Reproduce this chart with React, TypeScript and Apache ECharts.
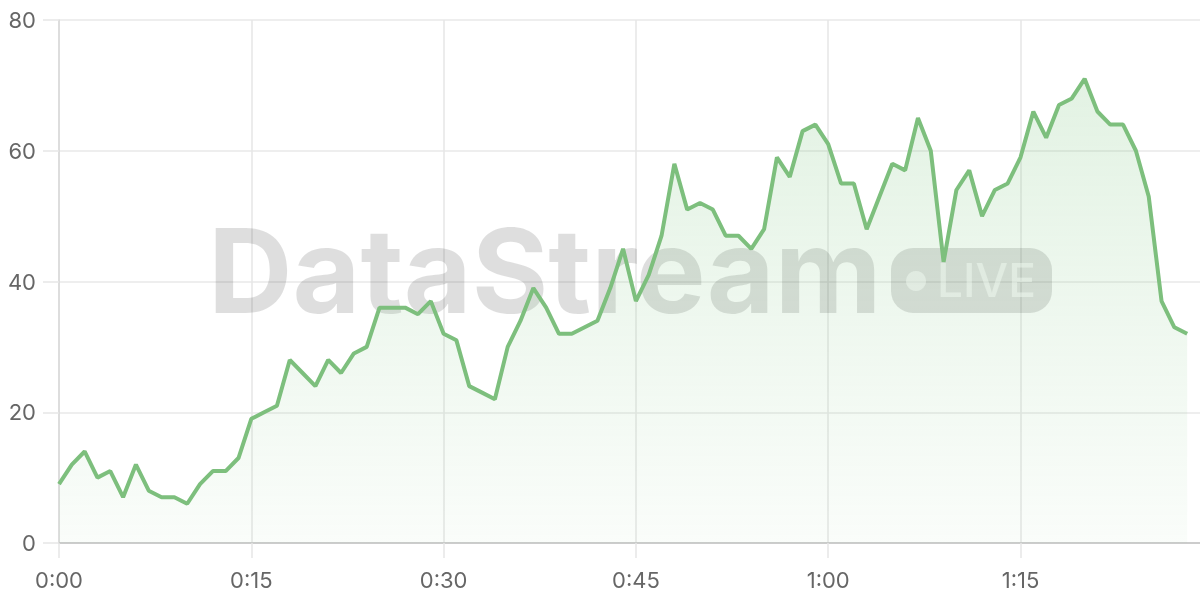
import React, { useEffect, useRef } from "react";
import * as echarts from "echarts";

// minutes 0..89 as "h:mm"
const minuteLabels: string[] = Array.from({ length: 90 }, (_, m) =>
  `${Math.floor(m / 60)}:${String(m % 60).padStart(2, "0")}`
);

const viewers: (number | null)[] = [
  9, 12, 14, 10, 11, 7, 12, 8, 7, 7,
  6, 9, 11, 11, 13, 19, 20, 21, 28, 26,
  24, 28, 26, 29, 30, 36, 36, 36, 35, 37,
  32, 31, 24, 23, 22, 30, 34, 39, 36, 32,
  32, 33, 34, 39, 45, 37, 41, 47, 58, 51,
  52, 51, 47, 47, 45, 48, 59, 56, 63, 64,
  61, 55, 55, 48, 53, 58, 57, 65, 60, 43,
  54, 57, 50, 54, 55, 59, 66, 62, 67, 68,
  71, 66, 64, 64, 60, 53, 37, 33, 32, null,
];

const yMin = 0;
const yMax = 80;
const yStep = 20;

const watermarkText = "DataStream";
const badgeText = "LIVE";

const FONT = "Inter, 'Noto Sans', sans-serif";

export default function App() {
  const ref = useRef<HTMLDivElement>(null);

  useEffect(() => {
    if (!ref.current) return;
    const chart = echarts.init(ref.current, null, { renderer: "svg" });
    chart.setOption({
      animation: false,
      grid: { left: 59, right: 0, top: 20, bottom: 57, containLabel: false },
      graphic: [
        {
          type: "text",
          z: 1,
          left: 208,
          top: 212,
          style: {
            text: watermarkText,
            font: `bold 117px ${FONT}`,
            fill: "rgba(0,0,0,0.13)",
          },
        },
        {
          type: "rect",
          z: 1,
          shape: { x: 891, y: 248, width: 161, height: 65, r: 22 },
          style: { fill: "rgba(0,0,0,0.13)" },
        },
        {
          type: "circle",
          z: 1,
          shape: { cx: 916, cy: 281, r: 10 },
          style: { fill: "rgba(255,255,255,0.55)" },
        },
        {
          type: "text",
          z: 1,
          left: 937,
          top: 257,
          style: {
            text: badgeText,
            font: `500 46px ${FONT}`,
            fill: "rgba(255,255,255,0.55)",
          },
        },
      ],
      xAxis: {
        type: "category",
        data: minuteLabels,
        boundaryGap: false,
        axisLine: { show: true, lineStyle: { color: "#cccccc", width: 2 } },
        axisTick: {
          show: true,
          interval: 14,
          length: 15,
          lineStyle: { color: "#e6e6e6", width: 1.5 },
        },
        axisLabel: {
          interval: 14,
          margin: 26,
          color: "#666666",
          fontSize: 22,
          fontFamily: FONT,
        },
        splitLine: {
          show: true,
          interval: 14,
          lineStyle: { color: "#e6e6e6", width: 1.5 },
        },
      },
      yAxis: {
        type: "value",
        min: yMin,
        max: yMax,
        interval: yStep,
        axisLine: { show: true, lineStyle: { color: "#d9d9d9", width: 1.5 } },
        axisTick: {
          show: true,
          length: 16,
          lineStyle: { color: "#e6e6e6", width: 1.5 },
        },
        axisLabel: {
          margin: 23,
          color: "#666666",
          fontSize: 22,
          fontFamily: FONT,
        },
        splitLine: { show: true, lineStyle: { color: "#e8e8e8", width: 1.5 } },
      },
      series: [
        {
          type: "line",
          data: viewers,
          z: 3,
          showSymbol: false,
          symbol: "none",
          lineStyle: { color: "#7dbf7d", width: 4 },
          itemStyle: { color: "#7dbf7d" },
          areaStyle: {
            color: new echarts.graphic.LinearGradient(0, 0, 0, 1, [
              { offset: 0, color: "rgba(129,199,132,0.32)" },
              { offset: 1, color: "rgba(129,199,132,0.06)" },
            ]),
          },
        },
      ],
    });
    return () => chart.dispose();
  }, []);

  return (
    <div
      ref={ref}
      style={{ position: "fixed", left: 0, top: 0, width: 1200, height: 600 }}
    />
  );
}
